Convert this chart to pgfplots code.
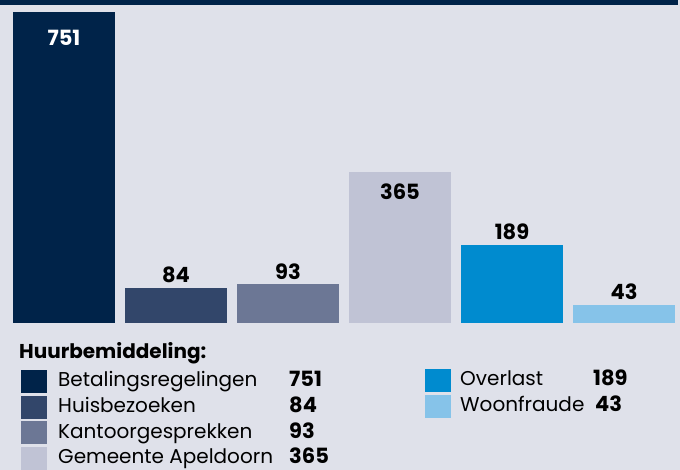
\documentclass[border=0pt]{standalone}
\usepackage{pgfplots}
\pgfplotsset{compat=1.18}
\usepackage{fontspec}
\setmainfont{Poppins}
\definecolor{bgc}{HTML}{DFE1EA}
\definecolor{cA}{HTML}{002349}
\definecolor{cB}{HTML}{32466A}
\definecolor{cC}{HTML}{6C7795}
\definecolor{cD}{HTML}{C0C3D5}
\definecolor{cE}{HTML}{008BCF}
\definecolor{cF}{HTML}{86C3E9}
\newcommand\numfont{\fontsize{21bp}{23bp}\selectfont\bfseries}
\begin{document}
\begin{tikzpicture}
\useasboundingbox (0,0) rectangle (680bp,470bp);
\clip (0,0) rectangle (680bp,470bp);
\fill[bgc] (0,0) rectangle (680bp,470bp);
\fill[cA] (0,465bp) rectangle (678bp,480bp);
\begin{axis}[at={(0bp,147bp)}, anchor=south west,
  width=680bp, height=318bp, scale only axis,
  xmin=-0.571, xmax=5.5, ymin=0, ymax=768,
  hide axis, ybar, bar width=102bp,
  /pgf/number format/assume math mode=true,
  every node near coord/.append style={font=\numfont, anchor=center},
  ]
\addplot[fill=cA, draw=none, bar shift=0pt, nodes near coords,
  every node near coord/.append style={text=white, yshift=-26bp}] coordinates {(0,751)};
\addplot[fill=cB, draw=none, bar shift=0pt, nodes near coords,
  every node near coord/.append style={text=black, yshift=13bp}] coordinates {(1,84)};
\addplot[fill=cC, draw=none, bar shift=0pt, nodes near coords,
  every node near coord/.append style={text=black, yshift=13bp}] coordinates {(2,93)};
\addplot[fill=cD, draw=none, bar shift=0pt, nodes near coords,
  every node near coord/.append style={text=black, yshift=-20bp}] coordinates {(3,365)};
\addplot[fill=cE, draw=none, bar shift=0pt, nodes near coords,
  every node near coord/.append style={text=black, yshift=13bp}] coordinates {(4,189)};
\addplot[fill=cF, draw=none, bar shift=0pt, nodes near coords,
  every node near coord/.append style={text=black, yshift=13bp}] coordinates {(5,43)};
\end{axis}
\begin{scope}[x=1bp, y=-1bp, yshift=470bp, every node/.style={inner sep=0pt, anchor=base west, font=\fontsize{20bp}{22bp}\selectfont}]
\node[font=\fontsize{20bp}{22bp}\selectfont\bfseries] at (19,359) {Huurbemiddeling:};
\fill[cA] (21,370) rectangle (47,393);
\fill[cB] (21,396) rectangle (47,419);
\fill[cC] (21,421) rectangle (47,444);
\fill[cD] (21,447) rectangle (47,470);
\node at (58,387) {Betalingsregelingen};
\node at (58,413) {Huisbezoeken};
\node at (58,439) {Kantoorgesprekken};
\node at (58,464) {Gemeente Apeldoorn};
\node[font=\numfont] at (289,387) {751};
\node[font=\numfont] at (289,413) {84};
\node[font=\numfont] at (289,439) {93};
\node[font=\numfont] at (289,464) {365};
\fill[cE] (425,369) rectangle (451,392);
\fill[cF] (425,395) rectangle (451,418);
\node at (460,386) {Overlast};
\node at (460,412) {Woonfraude};
\node[font=\numfont] at (593,386) {189};
\node[font=\numfont] at (595,412) {43};
\end{scope}
\end{tikzpicture}
\end{document}
